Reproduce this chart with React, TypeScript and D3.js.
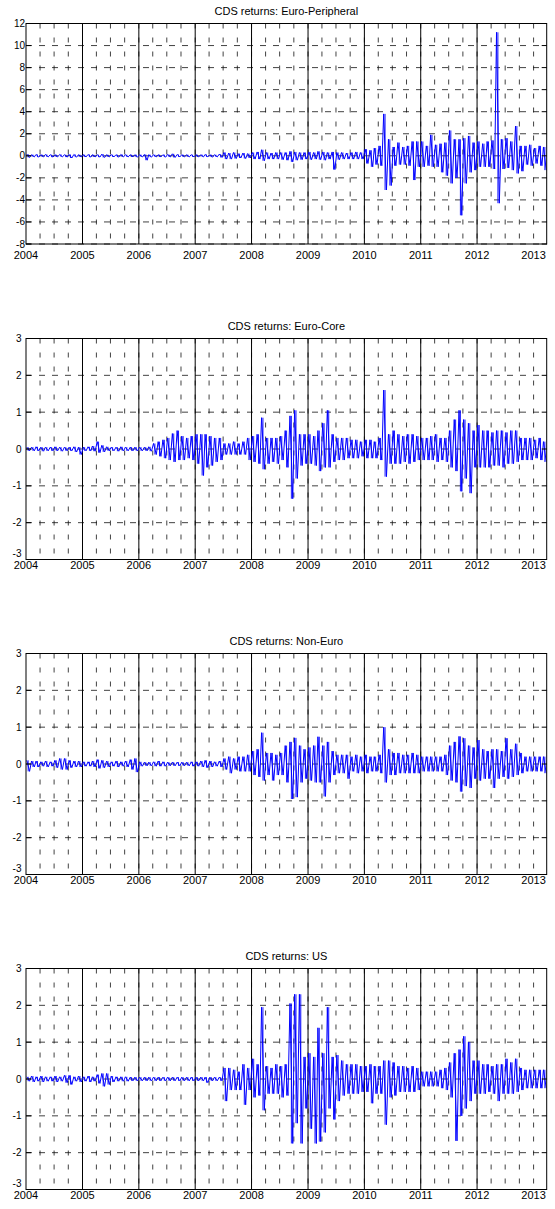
import * as d3 from "d3";
import { useEffect, useRef } from "react";

const W = 555;
const H = 1209;
const LEFT = 26;
const RIGHT = 546.7;

const titles = [
  "CDS returns: Euro-Peripheral",
  "CDS returns: Euro-Core",
  "CDS returns: Non-Euro",
  "CDS returns: US",
];
const yearTicks = [2004, 2005, 2006, 2007, 2008, 2009, 2010, 2011, 2012, 2013];
const yTicksWide = [-8, -6, -4, -2, 0, 2, 4, 6, 8, 10, 12];
const yTicksNarrow = [-3, -2, -1, 0, 1, 2, 3];

// monthly extremes of daily returns, Jan 2004 .. Mar 2013 (one row per year)
const epHi = [
  0.15, 0.1, 0.12, 0.1, 0.12, 0.1, 0.1, 0.12, 0.1, 0.12, 0.12, 0.1,
  0.1, 0.12, 0.1, 0.1, 0.15, 0.1, 0.1, 0.1, 0.12, 0.1, 0.1, 0.1,
  0.1, 0.12, 0.1, 0.1, 0.1, 0.1, 0.12, 0.18, 0.12, 0.1, 0.1, 0.1,
  0.1, 0.1, 0.12, 0.1, 0.1, 0.15, 0.3, 0.25, 0.3, 0.2, 0.25, 0.2,
  0.3, 0.35, 0.55, 0.3, 0.25, 0.3, 0.3, 0.3, 0.4, 0.35, 0.3, 0.3,
  0.35, 0.3, 0.4, 0.35, 0.3, 0.35, 0.3, 0.3, 0.25, 0.3, 0.35, 0.3,
  0.6, 0.5, 0.7, 0.9, 3.8, 1.5, 0.8, 1.2, 0.8, 0.9, 1.3, 1.3,
  1.3, 0.9, 1.9, 1.0, 1.1, 1.2, 2.3, 1.5, 1.5, 1.6, 1.8, 1.2,
  1.3, 1.1, 1.3, 1.4, 11.2, 1.5, 1.6, 1.3, 2.7, 0.9, 0.9, 1.0,
  0.7, 0.9, 0.8,
];
const epLo = [
  -0.15, -0.1, -0.12, -0.1, -0.1, -0.12, -0.1, -0.1, -0.12, -0.2, -0.12, -0.1,
  -0.1, -0.12, -0.1, -0.12, -0.15, -0.1, -0.1, -0.12, -0.1, -0.1, -0.1, -0.12,
  -0.1, -0.4, -0.12, -0.1, -0.1, -0.12, -0.1, -0.15, -0.1, -0.1, -0.1, -0.1,
  -0.1, -0.1, -0.1, -0.12, -0.1, -0.15, -0.3, -0.3, -0.25, -0.2, -0.25, -0.2,
  -0.3, -0.3, -0.45, -0.3, -0.3, -0.3, -0.35, -0.4, -0.55, -0.4, -0.35, -0.3,
  -0.35, -0.3, -0.35, -0.4, -0.3, -1.25, -0.35, -0.3, -0.3, -0.3, -0.3, -0.3,
  -0.7, -1.0, -0.8, -0.9, -3.1, -2.7, -0.9, -0.8, -0.8, -0.9, -2.2, -1.0,
  -1.0, -0.9, -1.0, -1.0, -1.5, -1.8, -2.5, -2.0, -5.4, -2.5, -1.5, -1.3,
  -1.0, -1.0, -1.0, -1.2, -4.3, -1.2, -1.1, -1.3, -1.6, -1.4, -0.8, -0.9,
  -0.7, -0.9, -1.3,
];

const ecHi = [
  0.05, 0.05, 0.06, 0.05, 0.05, 0.05, 0.06, 0.05, 0.05, 0.05, 0.06, 0.05,
  0.05, 0.06, 0.08, 0.2, 0.1, 0.06, 0.05, 0.05, 0.06, 0.05, 0.05, 0.05,
  0.05, 0.05, 0.06, 0.15, 0.2, 0.25, 0.3, 0.42, 0.5, 0.35, 0.3, 0.35,
  0.4, 0.4, 0.4, 0.35, 0.3, 0.3, 0.15, 0.15, 0.2, 0.15, 0.2, 0.3,
  0.35, 0.4, 0.85, 0.3, 0.3, 0.3, 0.35, 0.5, 0.9, 1.05, 0.4, 0.4,
  0.4, 0.35, 0.5, 0.7, 1.05, 0.4, 0.3, 0.3, 0.3, 0.25, 0.25, 0.2,
  0.25, 0.25, 0.2, 0.3, 1.6, 0.4, 0.5, 0.4, 0.35, 0.4, 0.4, 0.35,
  0.3, 0.3, 0.35, 0.4, 0.3, 0.3, 0.5, 0.8, 1.05, 0.8, 0.7, 0.5,
  0.65, 0.5, 0.5, 0.45, 0.5, 0.5, 0.45, 0.5, 0.5, 0.3, 0.3, 0.3,
  0.25, 0.3, 0.2,
];
const ecLo = [
  -0.05, -0.05, -0.05, -0.06, -0.05, -0.05, -0.05, -0.06, -0.05, -0.05, -0.08, -0.15,
  -0.05, -0.05, -0.06, -0.1, -0.08, -0.05, -0.05, -0.06, -0.05, -0.05, -0.05, -0.05,
  -0.05, -0.05, -0.06, -0.15, -0.2, -0.25, -0.3, -0.35, -0.3, -0.3, -0.25, -0.3,
  -0.4, -0.72, -0.5, -0.45, -0.35, -0.3, -0.15, -0.15, -0.15, -0.15, -0.15, -0.3,
  -0.35, -0.4, -0.55, -0.4, -0.35, -0.4, -0.3, -0.5, -1.35, -0.8, -0.45, -0.4,
  -0.4, -0.45, -0.6, -0.5, -0.5, -0.35, -0.3, -0.3, -0.25, -0.25, -0.25, -0.2,
  -0.25, -0.25, -0.25, -0.3, -0.75, -0.4, -0.4, -0.4, -0.35, -0.4, -0.35, -0.3,
  -0.3, -0.3, -0.3, -0.35, -0.3, -0.35, -0.5, -0.6, -1.15, -0.8, -1.2, -0.5,
  -0.5, -0.5, -0.5, -0.45, -0.45, -0.5, -0.4, -0.4, -0.35, -0.3, -0.3, -0.3,
  -0.25, -0.3, -0.35,
];

const neHi = [
  0.1, 0.08, 0.08, 0.06, 0.08, 0.06, 0.1, 0.15, 0.15, 0.1, 0.08, 0.08,
  0.06, 0.06, 0.08, 0.12, 0.1, 0.08, 0.06, 0.08, 0.06, 0.08, 0.12, 0.15,
  0.06, 0.05, 0.05, 0.06, 0.08, 0.06, 0.05, 0.05, 0.05, 0.05, 0.05, 0.06,
  0.06, 0.08, 0.1, 0.08, 0.06, 0.08, 0.15, 0.2, 0.15, 0.2, 0.2, 0.25,
  0.35, 0.4, 0.85, 0.3, 0.3, 0.25, 0.3, 0.5, 0.6, 0.71, 0.5, 0.4,
  0.45, 0.5, 0.74, 0.5, 0.6, 0.35, 0.25, 0.25, 0.25, 0.2, 0.25, 0.2,
  0.25, 0.2, 0.2, 0.25, 1.0, 0.4, 0.3, 0.3, 0.25, 0.25, 0.3, 0.25,
  0.2, 0.2, 0.2, 0.2, 0.2, 0.25, 0.5, 0.6, 0.75, 0.7, 0.5, 0.45,
  0.65, 0.4, 0.35, 0.4, 0.4, 0.35, 0.7, 0.4, 0.55, 0.3, 0.2, 0.2,
  0.2, 0.2, 0.2,
];
const neLo = [
  -0.2, -0.08, -0.08, -0.06, -0.08, -0.06, -0.1, -0.15, -0.15, -0.1, -0.08, -0.08,
  -0.06, -0.06, -0.08, -0.12, -0.1, -0.08, -0.06, -0.08, -0.06, -0.08, -0.15, -0.22,
  -0.06, -0.05, -0.05, -0.06, -0.06, -0.06, -0.05, -0.05, -0.05, -0.05, -0.05, -0.06,
  -0.06, -0.08, -0.1, -0.08, -0.06, -0.08, -0.15, -0.25, -0.15, -0.2, -0.2, -0.2,
  -0.3, -0.35, -0.45, -0.3, -0.45, -0.3, -0.3, -0.5, -0.95, -0.9, -0.5, -0.4,
  -0.45, -0.5, -0.5, -0.88, -0.5, -0.3, -0.25, -0.25, -0.4, -0.2, -0.25, -0.2,
  -0.25, -0.2, -0.2, -0.25, -0.5, -0.3, -0.3, -0.25, -0.25, -0.25, -0.25, -0.25,
  -0.2, -0.2, -0.2, -0.2, -0.2, -0.3, -0.45, -0.5, -0.75, -0.6, -0.65, -0.4,
  -0.45, -0.4, -0.4, -0.65, -0.4, -0.35, -0.4, -0.35, -0.3, -0.25, -0.2, -0.2,
  -0.2, -0.2, -0.25,
];

const usHi = [
  0.06, 0.08, 0.06, 0.08, 0.06, 0.06, 0.08, 0.06, 0.1, 0.1, 0.06, 0.08,
  0.06, 0.08, 0.06, 0.12, 0.15, 0.15, 0.08, 0.06, 0.06, 0.06, 0.05, 0.05,
  0.05, 0.05, 0.05, 0.05, 0.05, 0.05, 0.05, 0.05, 0.05, 0.05, 0.05, 0.05,
  0.05, 0.05, 0.05, 0.05, 0.05, 0.05, 0.3, 0.3, 0.25, 0.2, 0.4, 0.3,
  0.55, 0.4, 1.95, 0.35, 0.3, 0.4, 0.35, 0.4, 2.05, 2.3, 2.3, 0.6,
  0.7, 0.6, 1.39, 0.7, 1.95, 0.6, 0.65, 0.5, 0.4, 0.4, 0.4, 0.35,
  0.35, 0.4, 0.35, 0.35, 0.5, 0.5, 0.45, 0.35, 0.35, 0.3, 0.35, 0.3,
  0.2, 0.2, 0.2, 0.2, 0.25, 0.3, 0.45, 0.7, 0.8, 1.16, 1.0, 0.5,
  0.5, 0.4, 0.4, 0.35, 0.4, 0.4, 0.55, 0.45, 0.55, 0.3, 0.25, 0.25,
  0.25, 0.25, 0.25,
];
const usLo = [
  -0.06, -0.08, -0.06, -0.08, -0.06, -0.06, -0.08, -0.06, -0.1, -0.15, -0.06, -0.08,
  -0.06, -0.08, -0.06, -0.12, -0.2, -0.15, -0.08, -0.06, -0.06, -0.06, -0.05, -0.05,
  -0.05, -0.05, -0.05, -0.05, -0.05, -0.05, -0.05, -0.05, -0.05, -0.05, -0.05, -0.05,
  -0.05, -0.05, -0.1, -0.05, -0.05, -0.05, -0.6, -0.3, -0.3, -0.3, -0.7, -0.3,
  -0.5, -0.45, -0.85, -0.4, -0.4, -0.4, -0.5, -0.45, -1.75, -1.2, -1.75, -0.8,
  -1.35, -1.75, -1.7, -1.45, -0.8, -1.1, -0.6, -0.45, -0.4, -0.4, -0.4, -0.35,
  -0.35, -0.66, -0.4, -0.4, -1.24, -0.5, -0.45, -0.35, -0.35, -0.35, -0.35, -0.3,
  -0.2, -0.2, -0.2, -0.2, -0.25, -0.3, -0.5, -1.68, -1.0, -0.8, -0.6, -0.4,
  -0.4, -0.4, -0.35, -0.4, -0.6, -0.4, -0.4, -0.4, -0.35, -0.3, -0.25, -0.25,
  -0.25, -0.25, -0.25,
];

const panels = [
  { hi: epHi, lo: epLo, domain: [-8, 12], ticks: yTicksWide, top: 23.5, height: 220.5, labelX: 25, yearDy: 15 },
  { hi: ecHi, lo: ecLo, domain: [-3, 3], ticks: yTicksNarrow, top: 338.5, height: 221, labelX: 21.5, yearDy: 9.5 },
  { hi: neHi, lo: neLo, domain: [-3, 3], ticks: yTicksNarrow, top: 653.5, height: 221, labelX: 21.5, yearDy: 9.5 },
  { hi: usHi, lo: usLo, domain: [-3, 3], ticks: yTicksNarrow, top: 968.5, height: 221, labelX: 21.5, yearDy: 9.5 },
];

const App = () => {
  const ref = useRef(null);

  useEffect(() => {
    const svg = d3.select(ref.current);
    svg.selectAll("*").remove();

    const font = "'Liberation Sans', Arial, Helvetica, sans-serif";
    const x = d3.scaleTime()
      .domain([new Date(2004, 0, 1), new Date(2013, 2, 27)])
      .range([LEFT, RIGHT]);

    const quarters = d3.timeMonth.every(3).range(new Date(2004, 3, 1), new Date(2013, 2, 27));

    panels.forEach((p, i) => {
      const bottom = p.top + p.height;
      const y = d3.scaleLinear().domain(p.domain).range([bottom, p.top]);
      const g = svg.append("g");

      g.append("clipPath").attr("id", `clip${i}`)
        .append("rect")
        .attr("x", LEFT).attr("y", p.top)
        .attr("width", RIGHT - LEFT).attr("height", p.height);

      // dashed grid
      g.selectAll(".hgrid")
        .data(p.ticks)
        .enter()
        .append("line")
        .attr("x1", LEFT).attr("x2", RIGHT)
        .attr("y1", d => y(d)).attr("y2", d => y(d))
        .attr("stroke", "#111")
        .attr("stroke-width", 0.8)
        .attr("stroke-dasharray", "6,7");

      g.selectAll(".vgrid")
        .data(quarters)
        .enter()
        .append("line")
        .attr("x1", d => x(d)).attr("x2", d => x(d))
        .attr("y1", p.top).attr("y2", bottom)
        .attr("stroke", "#111")
        .attr("stroke-width", 0.8)
        .attr("stroke-dasharray", "5,9");

      g.selectAll(".year")
        .data(yearTicks.slice(1, -1))
        .enter()
        .append("line")
        .attr("x1", d => x(new Date(d, 0, 1))).attr("x2", d => x(new Date(d, 0, 1)))
        .attr("y1", p.top).attr("y2", bottom)
        .attr("stroke", "#000")
        .attr("stroke-width", 1);

      const series = g.append("g").attr("clip-path", `url(#clip${i})`);

      // monthly range bars
      series.selectAll(".range")
        .data(p.hi)
        .enter()
        .append("line")
        .attr("x1", (d, m) => x(new Date(2004, m, 15)))
        .attr("x2", (d, m) => x(new Date(2004, m, 15)))
        .attr("y1", d => y(d))
        .attr("y2", (d, m) => y(p.lo[m]))
        .attr("stroke", "#0000ff")
        .attr("stroke-width", 0.9);

      // series: monthly high then low
      const pts = [];
      p.hi.forEach((v, m) => {
        pts.push([new Date(2004, m, 6), v]);
        pts.push([new Date(2004, m, 24), p.lo[m]]);
      });

      const line = d3.line()
        .x(d => x(d[0]))
        .y(d => y(d[1]));

      series.append("path")
        .attr("d", line(pts))
        .attr("fill", "none")
        .attr("stroke", "#0000ff")
        .attr("stroke-width", 1);

      // box
      g.append("rect")
        .attr("x", LEFT).attr("y", p.top)
        .attr("width", RIGHT - LEFT).attr("height", p.height)
        .attr("fill", "none")
        .attr("stroke", "#000")
        .attr("stroke-width", 1);

      // ticks inside the box
      p.ticks.forEach(t => {
        g.append("line").attr("x1", LEFT).attr("x2", LEFT + 5)
          .attr("y1", y(t)).attr("y2", y(t)).attr("stroke", "#000");
        g.append("line").attr("x1", RIGHT - 5).attr("x2", RIGHT)
          .attr("y1", y(t)).attr("y2", y(t)).attr("stroke", "#000");
      });

      g.selectAll(".ylab")
        .data(p.ticks)
        .enter()
        .append("text")
        .attr("x", p.labelX)
        .attr("y", d => y(d))
        .attr("dy", d => (d === p.domain[0] && i > 0 ? "-0.3em" : "0.35em"))
        .attr("text-anchor", "end")
        .style("font-family", font)
        .style("font-size", "10px")
        .text(d => d);

      g.selectAll(".xlab")
        .data(yearTicks)
        .enter()
        .append("text")
        .attr("x", d => x(new Date(d, 0, 1)))
        .attr("y", bottom + p.yearDy)
        .attr("text-anchor", "middle")
        .style("font-family", font)
        .style("font-size", "11px")
        .text(d => d);

      g.append("text")
        .attr("x", (LEFT + RIGHT) / 2)
        .attr("y", p.top - 9)
        .attr("text-anchor", "middle")
        .style("font-family", font)
        .style("font-size", "11px")
        .text(titles[i]);
    });
  }, []);

  return (
    <svg
      ref={ref}
      width={W}
      height={H}
      style={{ position: "absolute", left: 0, top: 0, background: "#fff" }}
    ></svg>
  );
};

export default App;
